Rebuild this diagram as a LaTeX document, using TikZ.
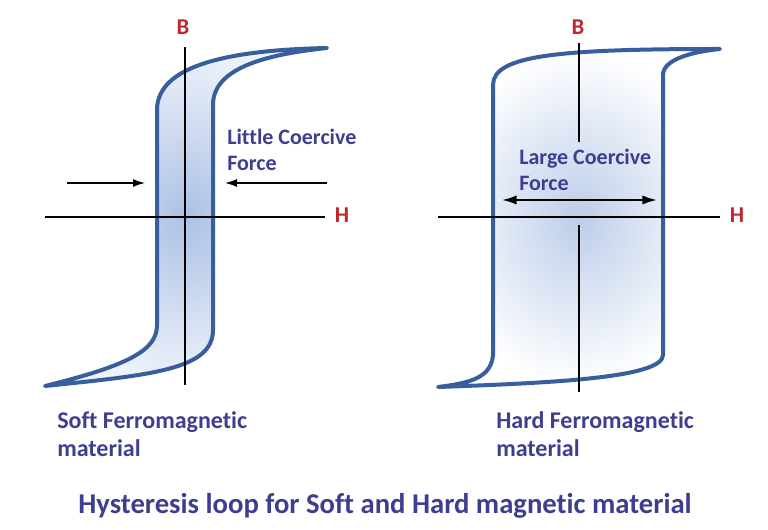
\documentclass[tikz,border=0pt]{standalone}
\usepackage{fontspec}
\setmainfont{Carlito}[Ligatures=NoCommon]
\usetikzlibrary{arrows.meta}
\definecolor{loopblue}{RGB}{56,94,158}
\definecolor{textnavy}{RGB}{62,62,145}
\definecolor{axisred}{RGB}{190,40,45}
\definecolor{shadeblue}{RGB}{172,193,228}
\definecolor{shadelight}{RGB}{238,243,251}
\begin{document}
\begin{tikzpicture}[x=0.75pt,y=-0.75pt,
  loop/.style={draw=loopblue,line width=3pt,line join=round,line cap=round},
  axis/.style={line width=0.8pt},
  pointer/.style={line width=1pt,-{Latex[length=9pt,width=6pt]}},
  spread/.style={line width=1.5pt,{Latex[length=11pt,width=7pt]}-{Latex[length=11pt,width=7pt]}},
  lbl/.style={text=textnavy,font=\bfseries\fontsize{16.5}{19.5}\selectfont,align=left,anchor=west,inner sep=0pt},
  caption/.style={text=textnavy,font=\bfseries\fontsize{18}{21}\selectfont,align=left,anchor=west,inner sep=0pt},
  axlbl/.style={text=axisred,font=\bfseries\fontsize{17}{19}\selectfont,inner sep=0pt}]
\useasboundingbox (0,0) rectangle (768,530);

\shadedraw[loop,inner color=shadeblue,outer color=shadelight]
  (327,48) .. controls (230,50) and (157,65) .. (157,110) -- (157,325)
  .. controls (157,350) and (130,365) .. (45,386)
  .. controls (150,375) and (213,370) .. (213,330) -- (213,105)
  .. controls (213,70) and (260,55) .. cycle;
\draw[axis] (185,47) -- (185,385);
\draw[axis] (45,217) -- (325,217);
\node[axlbl] (sB) at (183,27) {B};
\node[axlbl] (sH) at (342,215) {H};
\coordinate (sLa) at (67,183);
\coordinate (sLb) at (145,183);
\coordinate (sRa) at (327,183);
\coordinate (sRb) at (225,183);
\draw[pointer] (sLa) -- (sLb);
\draw[pointer] (sRa) -- (sRb);
\node[lbl] (little) at (227,150) {Little Coercive\\Force};
\node[caption] (soft) at (57,434) {Soft Ferromagnetic\\material};

\shadedraw[loop,inner color=shadeblue!80!white,outer color=white]
  (720,49) .. controls (560,49) and (493,55) .. (493,85) -- (493,355)
  .. controls (491,378) and (470,383) .. (438,387)
  .. controls (550,383) and (663,378) .. (663,355) -- (663,75)
  .. controls (663,60) and (690,52) .. cycle;
\draw[axis] (579,43) -- (579,142);
\draw[axis] (579,225) -- (579,392);
\draw[axis] (438,217) -- (720,217);
\node[axlbl] (hB) at (578,27) {B};
\node[axlbl] (hH) at (737,215) {H};
\coordinate (hLa) at (502,200);
\coordinate (hLb) at (657,200);
\draw[spread] (hLa) -- (hLb);
\node[lbl] (large) at (519,170) {Large Coercive\\Force};
\node[caption] (hard) at (496,434) {Hard Ferromagnetic\\material};

\node[text=textnavy,font=\bfseries\fontsize{21.5}{24}\selectfont] (title) at (385,506) {Hysteresis loop for Soft and Hard magnetic material};
\end{tikzpicture}
\end{document}
